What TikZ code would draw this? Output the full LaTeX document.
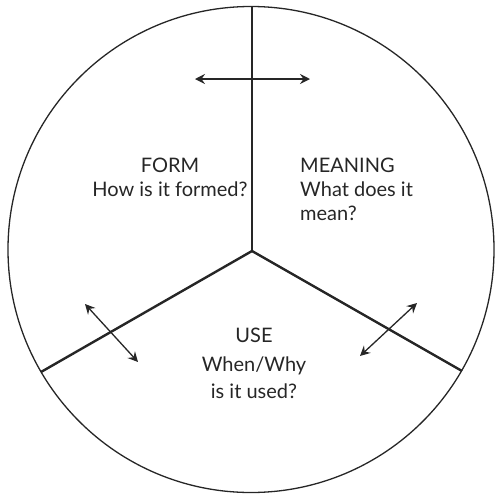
\documentclass[tikz,border=0pt]{standalone}
\usepackage{fontspec}
\setmainfont{Lato}
\usetikzlibrary{arrows.meta}
\tikzset{
  txt/.style={font=\fontsize{20}{24}\selectfont, inner sep=0pt, text=black!85},
  divider/.style={line width=2.4pt, black!85},
  dblarrow/.style={line width=1.3pt, black!85, {Stealth[length=10pt,width=10pt,inset=3.5pt]}-{Stealth[length=10pt,width=10pt,inset=3.5pt]}}
}
\begin{document}
\begin{tikzpicture}[x=1pt,y=-1pt]
\useasboundingbox (0,0) rectangle (495,496);
\coordinate (c) at (251,249.5);
\coordinate (j) at (252,251);
\coordinate (top) at (252,6.5);
\coordinate (ll) at (41,372);
\coordinate (lr) at (462,371);
\draw[line width=1.3pt, black!85] (c) circle (243);
\draw[divider] (j) -- (top);
\draw[divider] (j) -- (ll);
\draw[divider] (j) -- (lr);
\coordinate (a1) at (195,79);
\coordinate (a2) at (310,79);
\coordinate (b1) at (85,304);
\coordinate (b2) at (138,362);
\coordinate (d1) at (417,303);
\coordinate (d2) at (360,356);
\draw[dblarrow] (a1) -- (a2);
\draw[dblarrow] (b1) -- (b2);
\draw[dblarrow] (d1) -- (d2);
\node[txt] (form) at (170,165) {FORM};
\node[txt] (formq) at (170,189) {How is it formed?};
\node[txt, anchor=west] (mean) at (300,165) {MEANING};
\node[txt, anchor=west] (meanq1) at (300,189) {What does it};
\node[txt, anchor=west] (meanq2) at (300,213) {mean?};
\node[txt] (use) at (254,335) {USE};
\node[txt] (useq1) at (254,366) {When/Why};
\node[txt] (useq2) at (254,391) {is it used?};
\end{tikzpicture}
\end{document}
